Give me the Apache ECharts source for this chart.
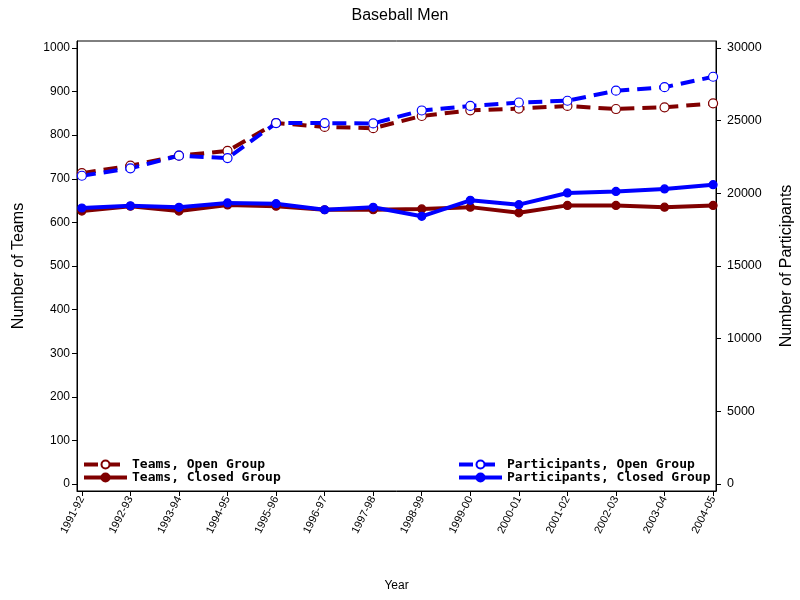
<!DOCTYPE html>
<html><head><meta charset="utf-8">
<script src="https://cdn.jsdelivr.net/npm/echarts@6/dist/echarts.min.js"></script>
<style>html,body{margin:0;padding:0;background:#fff}#c{width:800px;height:600px}</style>
</head><body><div id="c"></div>
<script>
const categories = ['1991-92','1992-93','1993-94','1994-95','1995-96','1996-97','1997-98','1998-99','1999-00','2000-01','2001-02','2002-03','2003-04','2004-05'];
const teamsOpen = [713, 730, 753, 764, 828, 819, 816, 844, 857, 861, 867, 860, 864, 873];
const teamsClosed = [626, 637, 626, 640, 637, 629, 629, 631, 635, 622, 639, 639, 635, 639];
const participantsOpen = [21210, 21720, 22590, 22425, 24830, 24830, 24810, 25700, 26010, 26250, 26370, 27060, 27300, 28020];
const participantsClosed = [18990, 19140, 19040, 19340, 19290, 18870, 19040, 18420, 19520, 19220, 20025, 20130, 20300, 20595];
const teamTicks = [0,100,200,300,400,500,600,700,800,900,1000];
const participantTicks = [0,5000,10000,15000,20000,25000,30000];

const RED = '#800000', BLUE = '#0000ff';
const pairs = arr => arr.map((v, i) => [i, v]);
const chart = echarts.init(document.getElementById('c'), null, {renderer: 'canvas'});
const axisFont = {fontFamily: 'Liberation Sans, Arial, sans-serif', fontSize: 12, color: '#000'};
const dash = [14, 8];
function mk(name, data, color, open, yIndex) {
  return {
    name, type: 'line', yAxisIndex: yIndex, data: pairs(data),
    symbol: 'circle', symbolSize: open ? 9 : 8,
    lineStyle: {color, width: 4, type: open ? dash : 'solid'},
    itemStyle: {color: open ? '#fff' : color, borderColor: color, borderWidth: 1.2},
    emphasis: {disabled: true}, animation: false
  };
}
const legendText = {fontFamily: 'DejaVu Sans Mono, monospace', fontSize: 13, fontWeight: 'bold', color: '#000', lineHeight: 13};
const catIdx = categories.map((c, i) => i);
const legendBase = {orient: 'vertical', top: 458, itemWidth: 43, itemHeight: 10, itemGap: 0, padding: 0, textStyle: legendText, selectedMode: false, lineStyle: {width: 4}};
chart.setOption({
  animation: false,
  title: {text: 'Baseball Men', left: 'center', top: 3, textStyle: {fontFamily: 'Liberation Sans, Arial, sans-serif', fontSize: 16, fontWeight: 'normal', color: '#000'}},
  grid: {left: 77, right: 84, top: 41, bottom: 109, show: true, borderColor: '#000', borderWidth: 1, backgroundColor: 'transparent', containLabel: false, outerBoundsMode: 'none'},
  legend: [
    {...legendBase, data: ['Teams, Open Group', 'Teams, Closed Group'], left: 82},
    {...legendBase, data: ['Participants, Open Group', 'Participants, Closed Group'], left: 457}
  ],
  xAxis: {
    type: 'value', min: -0.1, max: 13.06,
    name: 'Year', nameLocation: 'middle', nameGap: 89, nameTextStyle: axisFont,
    axisLine: {onZero: false, lineStyle: {color: '#000', width: 1}},
    axisTick: {show: true, length: 5, lineStyle: {color: '#000'}, customValues: catIdx},
    axisLabel: {rotate: 63, margin: 6, ...axisFont, fontSize: 11, customValues: catIdx, formatter: v => categories[Math.round(v)]},
    splitLine: {show: false}
  },
  yAxis: [
    {type: 'value', min: -16, max: 1016, position: 'left',
     name: 'Number of Teams', nameLocation: 'middle', nameGap: 50, nameTextStyle: {...axisFont, fontSize: 16},
     axisLine: {show: true, onZero: false, lineStyle: {color: '#000'}},
     axisTick: {show: true, length: 5, lineStyle: {color: '#000'}, customValues: teamTicks},
     axisLabel: {...axisFont, margin: 7, customValues: teamTicks, formatter: v => String(v)},
     splitLine: {show: false}},
    {type: 'value', min: -480, max: 30480, position: 'right',
     name: 'Number of Participants', nameLocation: 'middle', nameGap: 63, nameTextStyle: {...axisFont, fontSize: 16},
     axisLine: {show: true, onZero: false, lineStyle: {color: '#000'}},
     axisTick: {show: true, length: 5, lineStyle: {color: '#000'}, customValues: participantTicks},
     axisLabel: {...axisFont, fontSize: 12.5, margin: 11, customValues: participantTicks, formatter: v => String(v)},
     splitLine: {show: false}}
  ],
  series: [
    mk('Teams, Open Group', teamsOpen, RED, true, 0),
    mk('Teams, Closed Group', teamsClosed, RED, false, 0),
    mk('Participants, Open Group', participantsOpen, BLUE, true, 1),
    mk('Participants, Closed Group', participantsClosed, BLUE, false, 1)
  ]
});
</script></body></html>
